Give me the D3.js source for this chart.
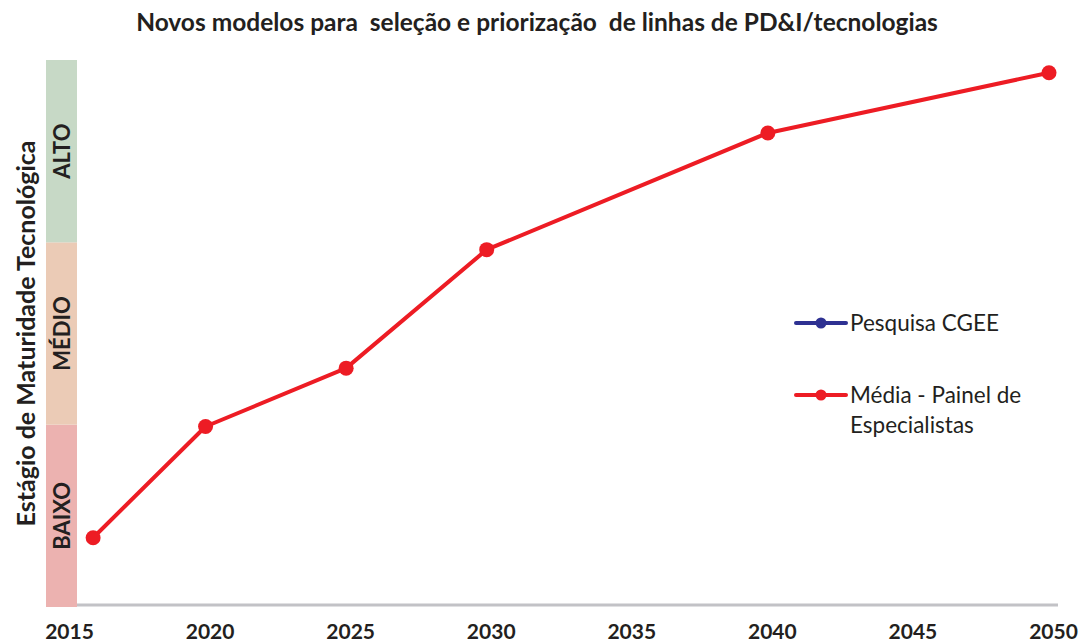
<!DOCTYPE html>
<html>
<head>
<meta charset="utf-8">
<script src="https://cdn.jsdelivr.net/npm/d3@7"></script>
<style>
	body { margin: 0; background: #fff; }
	text { font-family: Lato, "Open Sans", sans-serif; fill: #231f20; }
</style>
</head>
<body>
<svg id="chart" width="1087" height="642"></svg>
<script>
// data
const years      = [2016, 2020, 2025, 2030, 2040, 2050]
const painel     = [0.38, 0.99, 1.31, 1.96, 2.60, 2.93]   // Média - Painel de Especialistas
const tickYears  = [2015, 2020, 2025, 2030, 2035, 2040, 2045, 2050]
const bandNames  = ["BAIXO", "MÉDIO", "ALTO"]
const bandColors = ["#ecb2b0", "#ebcbb6", "#c7d9c6"]
const legendItems = [
	{ lines: ["Pesquisa CGEE"], color: "#2e3192" },
	{ lines: ["Média - Painel de", "Especialistas"], color: "#ed1c24" }
]

const svg = d3.select("#chart")

const x = d3.scaleLinear().domain([2015, 2050]).range([65, 1049])
const y = d3.scaleLinear().domain([0, 3]).range([607, 60])

// title
svg.append("text")
	.attr("x", 537).attr("y", 31)
	.attr("text-anchor", "middle")
	.attr("xml:space", "preserve")
	.style("font-size", "24.5px").style("font-weight", 700)
	.text("Novos modelos para  seleção e priorização  de linhas de PD&I/tecnologias")

// maturity bands
const band = svg.append("g")
band.selectAll("rect")
	.data(bandNames)
	.join("rect")
	.attr("x", 46).attr("width", 31)
	.attr("y", (d, i) => y(i + 1))
	.attr("height", (d, i) => y(i) - y(i + 1))
	.attr("fill", (d, i) => bandColors[i])
band.selectAll("text")
	.data(bandNames)
	.join("text")
	.attr("transform", (d, i) => "translate(70," + y(i + 0.5) + ") rotate(-90)")
	.attr("text-anchor", "middle")
	.style("font-size", "22px").style("font-weight", 700)
	.text(d => d)

// y label
svg.append("text")
	.attr("transform", "translate(35," + y(1.5) + ") rotate(-90)")
	.attr("text-anchor", "middle")
	.style("font-size", "25px").style("font-weight", 700)
	.text("Estágio de Maturidade Tecnológica")

// x axis
const xAxis = d3.axisBottom(x).tickValues(tickYears).tickFormat(d3.format("d")).tickSize(0).tickPadding(19)
const xAxisGroup = svg.append("g")
	.attr("transform", "translate(0," + 605 + ")")
	.call(xAxis)
xAxisGroup.select("path").remove()
xAxisGroup.append("line")
	.attr("x1", 77).attr("x2", 1058)
	.attr("stroke", "#c2c2c6").attr("stroke-width", 3)
xAxisGroup.selectAll("text")
	.attr("dx", 4)
	.style("font-family", "Lato, sans-serif")
	.style("font-size", "21px").style("font-weight", 700)
	.style("fill", "#231f20")

// series
const line = d3.line().x((d, i) => x(years[i])).y(d => y(d))
svg.append("path")
	.datum(painel)
	.attr("fill", "none")
	.attr("stroke", "#ed1c24").attr("stroke-width", 4)
	.attr("stroke-linejoin", "round")
	.attr("d", line)
svg.selectAll(".pt")
	.data(painel)
	.join("circle")
	.attr("class", "pt")
	.attr("cx", (d, i) => x(years[i])).attr("cy", d => y(d))
	.attr("r", 7.5)
	.attr("fill", "#ed1c24")

// legend
const legend = svg.append("g").attr("transform", "translate(796,323)")
const item = legend.selectAll("g")
	.data(legendItems)
	.join("g")
	.attr("transform", (d, i) => "translate(0," + i * 72 + ")")
item.append("line")
	.attr("x1", 0).attr("x2", 50)
	.attr("stroke", d => d.color).attr("stroke-width", 4).attr("stroke-linecap", "round")
item.append("circle")
	.attr("cx", 25).attr("r", 5.5).attr("fill", d => d.color)
item.append("text")
	.attr("x", 54).attr("y", 8)
	.style("font-size", "22.5px")
	.selectAll("tspan")
	.data(d => d.lines)
	.join("tspan")
	.attr("x", 54)
	.attr("dy", (d, i) => i ? 30 : 0)
	.text(d => d)
</script>
</body>
</html>
